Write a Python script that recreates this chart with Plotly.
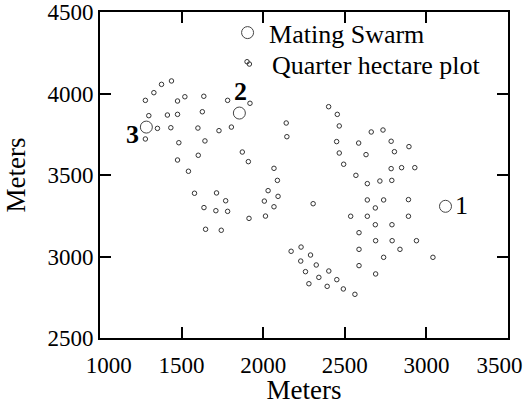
import plotly.graph_objects as go

# Quarter hectare plot sample points (meters)
plot_x = [1901, 1438, 1377, 1330, 1278, 1475, 1520, 1636, 1782, 1919,
          1627, 1299, 1413, 1475, 1352, 1434, 1600, 1729, 1805, 1278,
          1483, 1643, 1872, 1909, 1602, 1475, 1542, 2066, 2087, 2030,
          2091, 2007, 2066, 2014, 1913, 1579, 1714, 1770, 1637, 1710,
          1782, 1647, 1743,
          2401, 2454, 2466, 2141, 2145, 2450, 2466, 2493, 2662, 2734,
          2585, 2784, 2630, 2804, 2893, 2784, 2848, 2929, 2568, 2638,
          2715, 2788, 2306, 2638, 2738, 2890, 2687, 2536, 2638, 2890,
          2687, 2789, 2587,
          2689, 2790, 2939, 2838, 2587, 2738, 3040, 2587, 2689, 2232,
          2171, 2290, 2230, 2325, 2259, 2402, 2341, 2451, 2280, 2392,
          2491, 2562]
plot_y = [4195, 4077, 4056, 4005, 3958, 3954, 3980, 3983, 3958, 3940,
          3888, 3864, 3868, 3872, 3786, 3790, 3788, 3772, 3794, 3721,
          3698, 3709, 3641, 3582, 3621, 3592, 3523, 3541, 3467, 3404,
          3369, 3340, 3305, 3248, 3234, 3388, 3390, 3342, 3300, 3281,
          3277, 3167, 3161,
          3919, 3872, 3801, 3819, 3735, 3705, 3635, 3566, 3764, 3776,
          3696, 3707, 3625, 3643, 3674, 3539, 3545, 3545, 3498, 3447,
          3463, 3467, 3324, 3347, 3347, 3349, 3298, 3247, 3247, 3247,
          3195, 3195, 3146,
          3097, 3097, 3097, 3044, 3044, 2995, 2995, 2944, 2893, 3058,
          3032, 3009, 2972, 2948, 2907, 2911, 2872, 2858, 2833, 2817,
          2801, 2768]

# Mating swarm locations
swarm_x = [3117, 1854, 1284]
swarm_y = [3308, 3880, 3794]
swarm_labels = ["1", "2", "3"]
label_x = [3213, 1858, 1202]
label_y = [3310, 4011, 3747]
label_bold = [False, True, True]

x_ticks = [1000, 1500, 2000, 2500, 3000, 3500]
x_ticktext = ["\u00a0\u00a0\u00a01000", "1500", "2000", "2500", "3000",
              "3500\u00a0\u00a0\u00a0"]
y_ticks = [2500, 3000, 3500, 4000, 4500]

FONT = "Liberation Serif"

fig = go.Figure()
fig.add_trace(go.Scatter(
    x=swarm_x, y=swarm_y, mode="markers", name="Mating Swarm",
    marker=dict(symbol="circle-open", size=12, color="#444",
                line=dict(width=1, color="#444")),
    legend="legend",
))
fig.add_trace(go.Scatter(
    x=plot_x, y=plot_y, mode="markers", name="Quarter hectare plot",
    marker=dict(symbol="circle-open", size=4.5, color="#333",
                line=dict(width=1, color="#333")),
    legend="legend2",
))

for t, lx, ly, b in zip(swarm_labels, label_x, label_y, label_bold):
    fig.add_annotation(x=lx, y=ly, text=f"<b>{t}</b>" if b else t,
                       showarrow=False, xanchor="center", yanchor="middle",
                       font=dict(family=FONT, size=26, color="black"))

axis_common = dict(
    showgrid=False, zeroline=False, showline=True, linecolor="black",
    linewidth=2, mirror="ticks", ticks="inside", ticklen=11, tickwidth=1.5,
    tickcolor="black", tickfont=dict(family=FONT, size=23, color="black"),
    automargin=False, ticklabeloverflow="allow",
)

legend_common = dict(xanchor="left", yanchor="middle", bgcolor="rgba(0,0,0,0)",
                     font=dict(family=FONT, size=26, color="black"),
                     itemsizing="trace")

fig.update_layout(
    width=528, height=405,
    margin=dict(l=100, r=20, t=12, b=67, autoexpand=False),
    paper_bgcolor="white", plot_bgcolor="white",
    font=dict(family=FONT, color="black"),
    xaxis=dict(range=[1000, 3500], tickvals=x_ticks, ticktext=x_ticktext,
               ticklabelstandoff=5,
               title=dict(text="Meters", font=dict(family=FONT, size=27), standoff=8),
               **axis_common),
    yaxis=dict(range=[2500, 4500], tickvals=y_ticks,
               title=dict(text="Meters", font=dict(family=FONT, size=27), standoff=14),
               **axis_common),
    legend=dict(x=0.309, y=0.9365, itemwidth=33, **legend_common),
    legend2=dict(x=0.311, y=0.840, itemwidth=35, **legend_common),
    showlegend=True,
)

fig.write_html("out.html", post_script="document.body.style.margin='0';",
               config={"displayModeBar": False})
